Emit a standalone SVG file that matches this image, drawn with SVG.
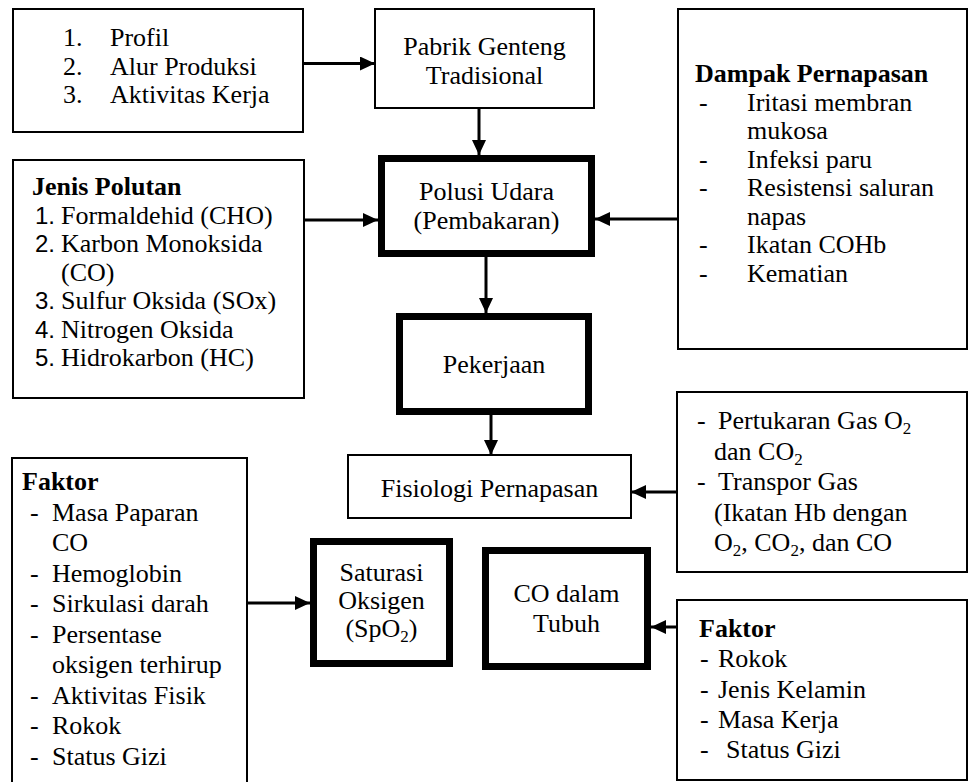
<svg xmlns="http://www.w3.org/2000/svg" width="971" height="782" viewBox="0 0 971 782">
<style>
text{font-family:"Liberation Serif","Times New Roman",serif;font-size:26px;fill:#000}
.b{font-weight:bold}
.c{text-anchor:middle}
.n{font-family:"Liberation Sans",Arial,sans-serif;font-size:24px}
.thin{fill:#fff;stroke:#000;stroke-width:2}
.thick{fill:#fff;stroke:#000;stroke-width:7}
.con{stroke:#000;stroke-width:3;fill:none;marker-end:url(#ah)}
</style>
<defs>
<marker id="ah" markerUnits="userSpaceOnUse" markerWidth="16" markerHeight="16" refX="15" refY="7" orient="auto">
<path d="M0,0 L15,7 L0,14 Z" fill="#000"/>
</marker>
</defs>
<rect width="971" height="782" fill="#fff"/>

<g id="connectors">
<line class="con" x1="303" y1="63.5" x2="375" y2="63.5"/>
<line class="con" x1="479" y1="108" x2="479" y2="155"/>
<line class="con" x1="304" y1="220" x2="378" y2="220"/>
<line class="con" x1="678" y1="219" x2="595" y2="219"/>
<line class="con" x1="486" y1="257" x2="486" y2="313"/>
<line class="con" x1="491" y1="398" x2="491" y2="455"/>
<line class="con" x1="677" y1="492" x2="631" y2="492"/>
<line class="con" x1="247" y1="603" x2="310" y2="603"/>
<line class="con" x1="677" y1="627" x2="651" y2="627"/>
</g>

<g id="profil">
<rect class="thin" x="13" y="9" width="290" height="123"/>
<text><tspan x="63" y="46">1.</tspan><tspan x="110" y="46">Profil</tspan></text>
<text><tspan x="63" y="74.5">2.</tspan><tspan x="110" y="74.5">Alur Produksi</tspan></text>
<text><tspan x="63" y="103">3.</tspan><tspan x="110" y="103">Aktivitas Kerja</tspan></text>
</g>

<g id="pabrik">
<rect class="thin" x="375" y="9" width="219" height="99"/>
<text class="c" x="484.5" y="55">Pabrik Genteng</text>
<text class="c" x="484.5" y="83.5">Tradisional</text>
</g>

<g id="dampak">
<rect class="thin" x="678" y="9" width="289" height="340"/>
<text class="b" x="695" y="82">Dampak Pernapasan</text>
<text><tspan x="699" y="110.5">-</tspan><tspan x="747" y="110.5">Iritasi membran</tspan></text>
<text x="747" y="139">mukosa</text>
<text><tspan x="699" y="167.5">-</tspan><tspan x="747" y="167.5">Infeksi paru</tspan></text>
<text><tspan x="699" y="196">-</tspan><tspan x="747" y="196">Resistensi saluran</tspan></text>
<text x="747" y="224.5">napas</text>
<text><tspan x="699" y="253">-</tspan><tspan x="747" y="253">Ikatan COHb</tspan></text>
<text><tspan x="699" y="281.5">-</tspan><tspan x="747" y="281.5">Kematian</tspan></text>
</g>

<g id="jenis-polutan">
<rect class="thin" x="13" y="160" width="291" height="238"/>
<text class="b" x="32" y="195">Jenis Polutan</text>
<text class="n" x="35" y="223.5">1.</text><text x="61" y="223.5">Formaldehid (CHO)</text>
<text class="n" x="35" y="252">2.</text><text x="61" y="252">Karbon Monoksida</text>
<text x="61" y="280.5">(CO)</text>
<text class="n" x="35" y="309">3.</text><text x="61" y="309">Sulfur Oksida (SOx)</text>
<text class="n" x="35" y="337.5">4.</text><text x="61" y="337.5">Nitrogen Oksida</text>
<text class="n" x="35" y="366">5.</text><text x="61" y="366">Hidrokarbon (HC)</text>
</g>

<g id="polusi">
<rect class="thick" x="381.5" y="158.5" width="210" height="95"/>
<text class="c" x="486.5" y="200">Polusi Udara</text>
<text class="c" x="486.5" y="228.5">(Pembakaran)</text>
</g>

<g id="pekerjaan">
<rect class="thick" x="399.5" y="316.5" width="189" height="95"/>
<text class="c" x="494" y="373">Pekerjaan</text>
</g>

<g id="fisiologi">
<rect class="thin" x="348" y="455" width="283" height="63"/>
<text class="c" x="489.5" y="497">Fisiologi Pernapasan</text>
</g>

<g id="pertukaran">
<rect class="thin" x="677" y="392" width="290" height="180"/>
<text><tspan x="697" y="429">-</tspan><tspan x="718" y="429">Pertukaran Gas O</tspan><tspan font-size="17" dy="5">2</tspan></text>
<text x="714" y="459.5">dan CO<tspan font-size="17" dy="5">2</tspan></text>
<text><tspan x="697" y="490">-</tspan><tspan x="718" y="490">Transpor Gas</tspan></text>
<text x="714" y="520.5">(Ikatan Hb dengan</text>
<text x="714" y="551">O<tspan font-size="17" dy="5">2</tspan><tspan dy="-5">, CO</tspan><tspan font-size="17" dy="5">2</tspan><tspan dy="-5">, dan CO</tspan></text>
</g>

<g id="faktor-kiri">
<rect class="thin" x="12" y="458" width="235" height="340"/>
<text class="b" x="22" y="490">Faktor</text>
<text><tspan x="30" y="521">-</tspan><tspan x="52" y="521">Masa Paparan</tspan></text>
<text x="52" y="551">CO</text>
<text><tspan x="30" y="581.5">-</tspan><tspan x="52" y="581.5">Hemoglobin</tspan></text>
<text><tspan x="30" y="612">-</tspan><tspan x="52" y="612">Sirkulasi darah</tspan></text>
<text><tspan x="30" y="642.5">-</tspan><tspan x="52" y="642.5">Persentase</tspan></text>
<text x="52" y="673">oksigen terhirup</text>
<text><tspan x="30" y="703.5">-</tspan><tspan x="52" y="703.5">Aktivitas Fisik</tspan></text>
<text><tspan x="30" y="734">-</tspan><tspan x="52" y="734">Rokok</tspan></text>
<text><tspan x="30" y="764.5">-</tspan><tspan x="52" y="764.5">Status Gizi</tspan></text>
</g>

<g id="saturasi">
<rect class="thick" x="313.5" y="541.5" width="136" height="122"/>
<text class="c" x="381.5" y="581">Saturasi</text>
<text class="c" x="381.5" y="609">Oksigen</text>
<text class="c" x="381.5" y="637">(SpO<tspan font-size="17" dy="5">2</tspan><tspan dy="-5">)</tspan></text>
</g>

<g id="co-tubuh">
<rect class="thick" x="485.5" y="550.5" width="162" height="116"/>
<text class="c" x="566.5" y="602">CO dalam</text>
<text class="c" x="566.5" y="631.5">Tubuh</text>
</g>

<g id="faktor-kanan">
<rect class="thin" x="677" y="600" width="290" height="180"/>
<text class="b" x="699" y="637">Faktor</text>
<text><tspan x="700" y="667">-</tspan><tspan x="718" y="667">Rokok</tspan></text>
<text><tspan x="700" y="697.5">-</tspan><tspan x="718" y="697.5">Jenis Kelamin</tspan></text>
<text><tspan x="700" y="728">-</tspan><tspan x="718" y="728">Masa Kerja</tspan></text>
<text><tspan x="700" y="758">-</tspan><tspan x="726" y="758">Status Gizi</tspan></text>
</g>
</svg>
